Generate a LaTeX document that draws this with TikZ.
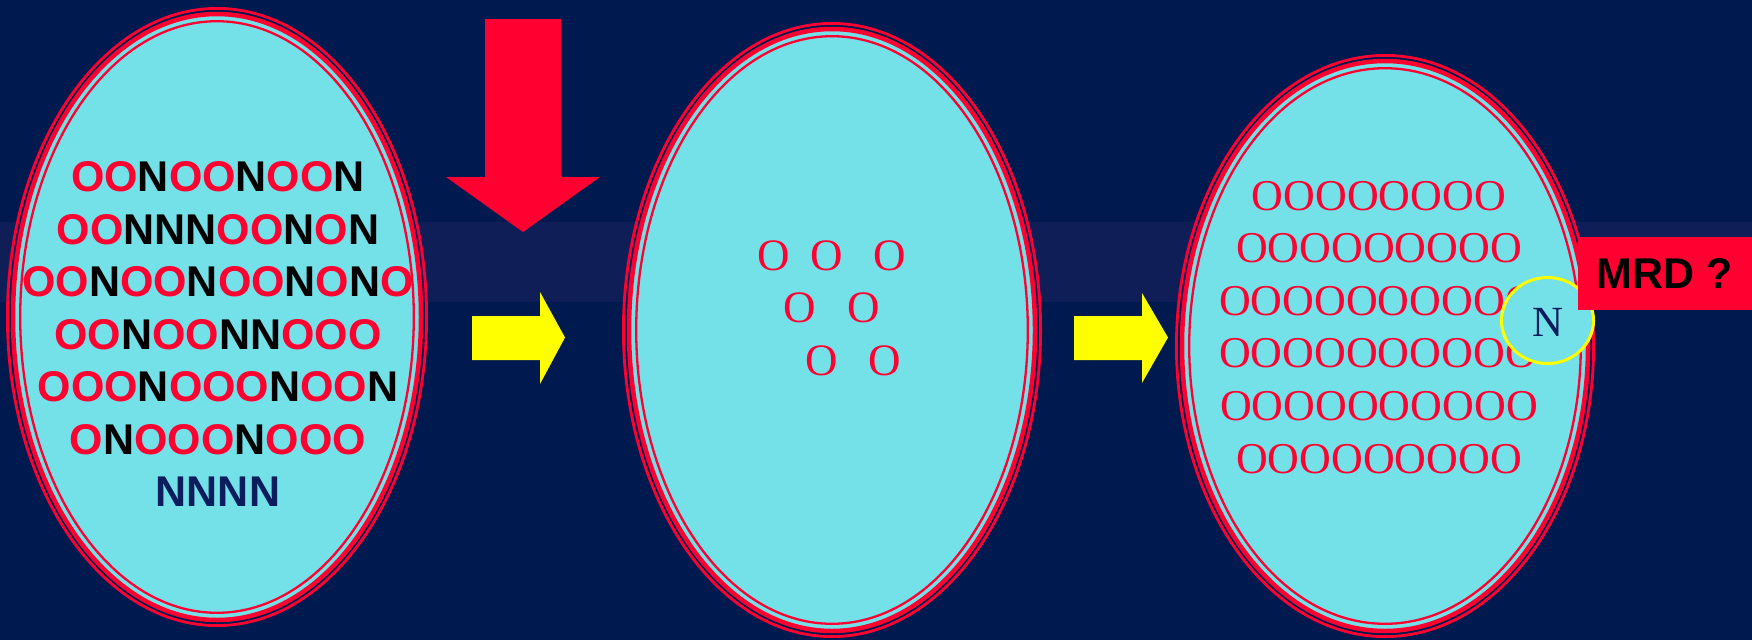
\documentclass[tikz,border=0pt]{standalone}
\usepackage{fontspec}
\newfontfamily\arialf{Liberation Sans}
\newfontfamily\timesf{Liberation Serif}
\usetikzlibrary{shapes.geometric}
\definecolor{bgnavy}{HTML}{001A50}
\definecolor{bandc}{HTML}{101E58}
\definecolor{cyanf}{HTML}{74E0E7}
\definecolor{myred}{HTML}{FF0030}
\definecolor{myyel}{HTML}{FFFF00}
\definecolor{txtnavy}{HTML}{0B1D5C}
\newcommand{\rd}[1]{\textcolor{myred}{#1}}
\begin{document}
\begin{tikzpicture}[x=1pt,y=-1pt,
  cell/.style={ellipse, draw=myred, fill=cyanf, line width=4.5pt, inner sep=0pt},
  ring/.style={draw=myred, line width=2.8pt},
  thinring/.style={draw=myred, line width=2.3pt},
  sansrow/.style={font=\arialf\bfseries\fontsize{43}{43}\selectfont, text=black, inner sep=0pt},
  serifO/.style={font=\timesf\fontsize{45}{45}\selectfont, text=myred, inner sep=0pt},
  serifrow/.style={font=\timesf\fontsize{44}{44}\selectfont, text=myred, inner sep=0pt},
  yarrow/.style={fill=myyel},
  rarrow/.style={fill=myred},
]
\useasboundingbox (0,0) rectangle (1752,640);
\fill[bgnavy] (0,0) rectangle (1752,640);
\fill[bandc] (0,222) rectangle (1752,302);

% left ellipse
\node[cell, minimum width=408pt, minimum height=606pt] (e1) at (217,317) {};
\draw[ring] (e1.center) ellipse [x radius=209.6, y radius=308.6];
\draw[thinring] (e1.center) ellipse [x radius=196.8, y radius=295.8];

% middle ellipse
\node[cell, minimum width=406pt, minimum height=602pt] (e2) at (832,330) {};
\draw[ring] (e2.center) ellipse [x radius=208.6, y radius=306.6];
\draw[thinring] (e2.center) ellipse [x radius=195.8, y radius=293.8];

% right ellipse
\node[cell, minimum width=406pt, minimum height=570pt] (e3) at (1385,346) {};
\draw[ring] (e3.center) ellipse [x radius=208.6, y radius=290.6];
\draw[thinring] (e3.center) ellipse [x radius=195.8, y radius=277.8];

% left text
\node[sansrow] (l1) at (218,176.5) {\rd{OO}N\rd{OO}N\rd{OO}N};
\node[sansrow] (l2) at (218,229.5) {\rd{OO}NNN\rd{OO}N\rd{O}N};
\node[sansrow] (l3) at (218,282) {\rd{OO}N\rd{OO}N\rd{OO}N\rd{O}N\rd{O}};
\node[sansrow] (l4) at (218,334.5) {\rd{OO}N\rd{OO}NN\rd{OOO}};
\node[sansrow] (l5) at (218,387) {\rd{OOO}N\rd{OOO}N\rd{OO}N};
\node[sansrow] (l6) at (218,440) {\rd{O}N\rd{OOO}N\rd{OOO}};
\node[sansrow, text=txtnavy] (l7) at (218,492) {NNNN};

% middle text
\node[serifO] (m1) at (774,256) {O};
\node[serifO] (m2) at (827,256) {O};
\node[serifO] (m3) at (890,256) {O};
\node[serifO] (m4) at (800,308) {O};
\node[serifO] (m5) at (864,308) {O};
\node[serifO] (m6) at (822,361) {O};
\node[serifO] (m7) at (885,361) {O};

% right text
\node[serifrow] (r1) at (1379,196) {OOOOOOOO};
\node[serifrow] (r2) at (1379,248.5) {OOOOOOOOO};
\node[serifrow] (r3) at (1378,301) {OOOOOOOOOO};
\node[serifrow] (r4) at (1378,353.3) {OOOOOOOOOO};
\node[serifrow] (r5) at (1379,406) {OOOOOOOOOO};
\node[serifrow] (r6) at (1379,459) {OOOOOOOOO};

% yellow circle with N
\node[ellipse, draw=myyel, fill=cyanf, line width=3pt, minimum width=92pt, minimum height=86pt, inner sep=0pt] (nc) at (1547.5,320.5) {};
\node[font=\timesf\fontsize{43}{43}\selectfont, text=txtnavy, inner sep=0pt] (nn) at (1548,322) {N};

% arrows
\fill[rarrow] (485,19) -- (561,19) -- (561,177) -- (600,177) -- (523,232) -- (446,177) -- (485,177) -- cycle;
\fill[yarrow] (472,316) -- (540,316) -- (540,292) -- (565,337.5) -- (540,384) -- (540,360) -- (472,360) -- cycle;
\fill[yarrow] (1074,316) -- (1142,316) -- (1142,293) -- (1168,337.5) -- (1142,383) -- (1142,360) -- (1074,360) -- cycle;

% MRD box
\node[fill=myred, minimum width=174pt, minimum height=73pt, inner sep=0pt, font=\arialf\bfseries\fontsize{43}{43}\selectfont, text=black] (mrd) at (1665,273.5) {MRD ?};
\end{tikzpicture}
\end{document}
